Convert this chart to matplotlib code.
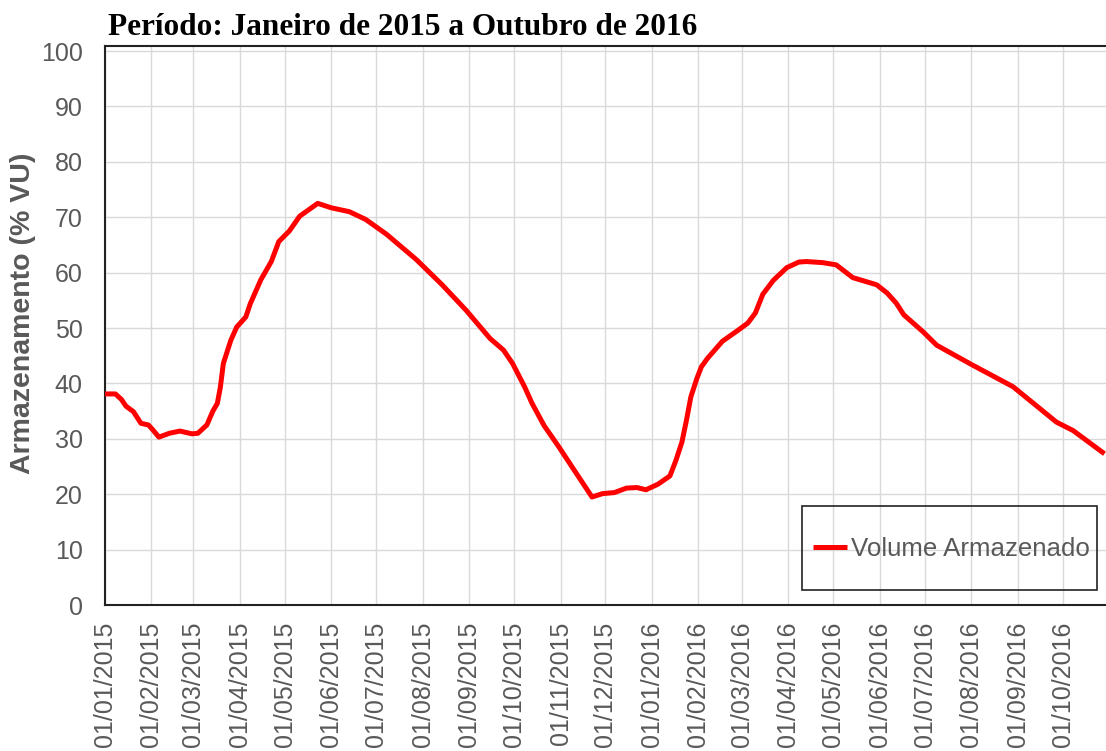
import numpy as np
import pandas as pd
import matplotlib
matplotlib.use("Agg")
import matplotlib.pyplot as plt
from matplotlib.patches import Rectangle

# valores (% do volume útil)
datas = ["2015-01-01", "2015-01-08", "2015-01-12", "2015-01-15", "2015-01-20",
         "2015-01-25", "2015-01-30", "2015-02-02", "2015-02-06", "2015-02-13",
         "2015-02-20", "2015-02-28", "2015-03-04", "2015-03-10", "2015-03-14",
         "2015-03-17", "2015-03-19", "2015-03-21", "2015-03-26", "2015-03-30",
         "2015-04-05", "2015-04-08", "2015-04-15", "2015-04-22", "2015-04-27",
         "2015-05-04", "2015-05-11", "2015-05-23", "2015-06-01", "2015-06-13",
         "2015-06-24", "2015-07-08", "2015-07-28", "2015-08-14", "2015-08-30",
         "2015-09-15", "2015-09-24", "2015-09-30", "2015-10-08", "2015-10-13",
         "2015-10-21", "2015-10-31", "2015-11-09", "2015-11-22", "2015-11-29",
         "2015-12-07", "2015-12-15", "2015-12-22", "2015-12-28", "2016-01-05",
         "2016-01-13", "2016-01-17", "2016-01-21", "2016-01-24", "2016-01-27",
         "2016-01-31", "2016-02-03", "2016-02-07", "2016-02-17", "2016-02-28",
         "2016-03-05", "2016-03-10", "2016-03-15", "2016-03-22", "2016-03-31",
         "2016-04-08", "2016-04-13", "2016-04-24", "2016-05-03", "2016-05-14",
         "2016-05-30", "2016-06-06", "2016-06-12", "2016-06-17", "2016-06-30",
         "2016-07-09", "2016-08-02", "2016-08-29", "2016-09-27", "2016-10-08",
         "2016-10-29"]
volume = [38.1, 38.1, 37.1, 35.9, 34.9,
          32.8, 32.5, 31.6, 30.3, 31.0,
          31.4, 30.9, 31.0, 32.5, 35.0,
          36.4, 39.3, 43.6, 47.8, 50.2,
          52.0, 54.4, 58.7, 62.0, 65.6,
          67.5, 70.2, 72.5, 71.7, 71.0,
          69.6, 66.9, 62.3, 57.8, 53.2,
          48.1, 46.0, 43.6, 39.4, 36.4,
          32.4, 28.5, 24.8, 19.5, 20.1,
          20.3, 21.1, 21.2, 20.8, 21.8,
          23.3, 26.1, 29.4, 33.3, 37.6,
          40.9, 43.0, 44.5, 47.6, 49.7,
          50.9, 52.7, 56.1, 58.6, 60.9,
          61.9, 62.0, 61.8, 61.4, 59.1,
          57.8, 56.3, 54.5, 52.4, 49.3,
          46.9, 43.3, 39.4, 33.0, 31.5,
          27.3]

datas = pd.to_datetime(datas)
meses = pd.date_range("2015-01-01", "2016-10-01", freq="MS")
rotulos = [m.strftime("%d/%m/%Y") for m in meses]

plt.rcParams['font.family'] = ['Liberation Sans', 'DejaVu Sans']
cinza = "#595959"

fig = plt.figure(figsize=(11.06, 7.51), dpi=100)
ax = fig.add_axes([0.0949, 0.1944, 0.9051, 0.7443])

ax.plot(datas, volume, color="#ff0000", lw=3.6, label="Volume Armazenado",
        solid_capstyle="butt", zorder=3)

ax.set_xlim(pd.Timestamp("2015-01-01"), pd.Timestamp("2016-10-30"))
ax.set_ylim(0, 100.9)
ax.set_yticks(np.arange(0, 101, 10))
ax.set_xticks(meses)
ax.set_xticklabels(rotulos, rotation=90)

ax.grid(True, color="#d9d9d9", lw=1.0)
ax.set_axisbelow(True)
ax.tick_params(axis="both", length=0, labelsize=18, labelcolor=cinza)
ax.tick_params(axis="y", pad=16)
ax.tick_params(axis="x", pad=12)
for s in ["left", "bottom", "top"]:
    ax.spines[s].set_color("#222222")
    ax.spines[s].set_linewidth(1.5)
ax.spines["right"].set_visible(False)

fig.text(0.0976, 0.953, "Período: Janeiro de 2015 a Outubro de 2016",
         fontsize=22.5, fontweight="bold", family="Liberation Serif",
         ha="left", va="baseline")
fig.text(0.021, 1 - 313 / 751, "Armazenamento (% VU)", rotation=90,
         fontsize=20.5, fontweight="bold", color=cinza, ha="center", va="center")

# caixa da legenda
fig.patches.append(Rectangle((802 / 1106, 1 - 590 / 751), 295 / 1106, 84 / 751,
                             transform=fig.transFigure, fill=False,
                             edgecolor="#222222", lw=1.2))
ax.legend(loc="center", bbox_to_anchor=(951 / 1106, 1 - 549 / 751),
          bbox_transform=fig.transFigure, frameon=False, fontsize=18.6,
          handlelength=1.35, handletextpad=0.12, labelcolor=cinza)

fig.savefig("out.png", dpi=100)
